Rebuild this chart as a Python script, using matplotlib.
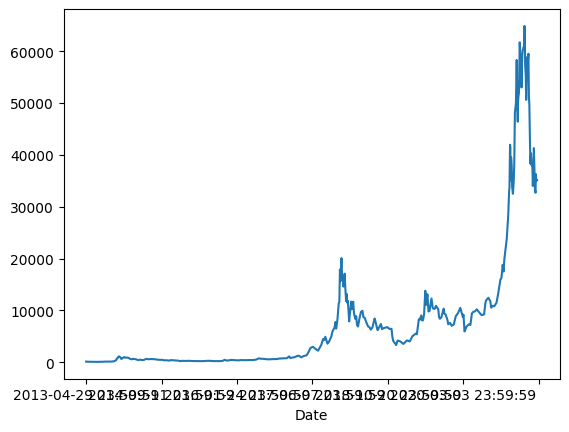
import matplotlib
matplotlib.use("Agg")
import matplotlib.pyplot as plt
import pandas as pd

start_date = "2013-04-29"

dates_2013 = ["2013-04-29", "2013-05-08", "2013-05-15", "2013-05-25", "2013-06-01", "2013-06-10", "2013-06-20",
              "2013-06-30", "2013-07-06", "2013-07-15", "2013-07-25", "2013-08-05", "2013-08-18", "2013-09-01",
              "2013-09-15", "2013-10-01", "2013-10-15", "2013-10-30", "2013-11-08", "2013-11-14", "2013-11-19",
              "2013-11-25", "2013-11-30", "2013-12-04", "2013-12-10", "2013-12-15", "2013-12-18", "2013-12-25"]
high_2013 = [147, 118, 118, 134, 130, 110, 112,
             98, 80, 98, 96, 107, 110, 138,
             134, 134, 145, 205, 340, 420, 755,
             830, 1130, 1156, 1010, 880, 650, 770]

dates_2014 = ["2014-01-06", "2014-01-15", "2014-01-25", "2014-02-05", "2014-02-12", "2014-02-25", "2014-03-05",
              "2014-03-15", "2014-03-25", "2014-04-05", "2014-04-11", "2014-04-20", "2014-05-01", "2014-05-15",
              "2014-06-01", "2014-06-15", "2014-07-01", "2014-07-15", "2014-08-01", "2014-08-18", "2014-09-01",
              "2014-09-15", "2014-10-01", "2014-10-15", "2014-11-01", "2014-11-12", "2014-12-01", "2014-12-15"]
high_2014 = [1017, 880, 930, 850, 700, 580, 680,
             640, 590, 470, 440, 510, 460, 450,
             660, 600, 640, 625, 590, 500, 485,
             480, 390, 400, 330, 430, 385, 355]

dates_2015 = ["2015-01-01", "2015-01-14", "2015-01-25", "2015-02-15", "2015-03-10", "2015-04-01", "2015-05-01",
              "2015-06-01", "2015-06-20", "2015-07-10", "2015-08-01", "2015-08-20", "2015-09-15", "2015-10-01",
              "2015-10-20", "2015-11-04", "2015-11-15", "2015-12-01", "2015-12-16"]
high_2015 = [320, 230, 290, 260, 295, 255, 240,
             232, 245, 295, 285, 240, 232, 240,
             270, 495, 340, 380, 465]

dates_2016 = ["2016-01-01", "2016-01-15", "2016-02-01", "2016-02-20", "2016-03-15", "2016-04-15", "2016-05-15",
              "2016-06-01", "2016-06-17", "2016-07-01", "2016-07-20", "2016-08-02", "2016-08-20", "2016-09-15",
              "2016-10-15", "2016-11-01", "2016-11-20", "2016-12-01", "2016-12-20"]
high_2016 = [435, 395, 378, 440, 418, 430, 455,
             540, 770, 690, 672, 612, 580, 612,
             642, 735, 752, 760, 800]

dates_2017 = ["2017-01-04", "2017-01-12", "2017-01-25", "2017-02-10", "2017-02-25", "2017-03-10", "2017-03-25",
              "2017-04-10", "2017-04-30", "2017-05-10", "2017-05-25", "2017-06-11", "2017-06-25", "2017-07-15",
              "2017-07-25", "2017-08-05", "2017-08-17", "2017-08-24", "2017-09-01", "2017-09-15", "2017-09-25",
              "2017-10-10", "2017-10-20", "2017-11-01", "2017-11-08", "2017-11-12", "2017-11-20", "2017-11-29",
              "2017-12-03", "2017-12-07", "2017-12-10", "2017-12-17", "2017-12-22", "2017-12-26", "2017-12-30"]
high_2017 = [1150, 820, 920, 1000, 1200, 1280, 960,
             1210, 1360, 1820, 2760, 3000, 2650, 2250,
             2780, 3350, 4480, 4300, 4930, 3600, 3950,
             4920, 6070, 6700, 7780, 6500, 8100, 11400,
             11600, 17900, 15600, 20090, 15900, 16300, 14600]

dates_2018 = ["2018-01-04", "2018-01-07", "2018-01-12", "2018-01-17", "2018-01-20", "2018-01-24", "2018-01-28",
              "2018-02-01", "2018-02-06", "2018-02-10", "2018-02-15", "2018-02-20", "2018-02-25", "2018-03-05",
              "2018-03-10", "2018-03-18", "2018-03-25", "2018-03-30", "2018-04-06", "2018-04-15", "2018-04-25",
              "2018-05-05", "2018-05-12", "2018-05-20", "2018-06-01", "2018-06-12", "2018-06-20", "2018-06-29",
              "2018-07-10", "2018-07-17", "2018-07-25", "2018-08-01", "2018-08-10", "2018-08-14", "2018-08-25",
              "2018-09-05", "2018-09-12", "2018-09-20", "2018-10-15", "2018-11-01", "2018-11-14", "2018-11-20",
              "2018-11-25", "2018-12-15", "2018-12-24"]
high_2018 = [15500, 17100, 14100, 11800, 13200, 11500, 11900,
             10300, 7900, 9100, 10300, 11700, 10300, 11700,
             9500, 8400, 8900, 7200, 6900, 8400, 9700,
             9950, 8700, 8600, 7650, 6900, 6800, 6300,
             6720, 7500, 8450, 7700, 6550, 6200, 6830,
             7400, 6400, 6550, 6800, 6450, 6450, 4850,
             4150, 3330, 4200]

dates_2019 = ["2019-01-10", "2019-02-01", "2019-02-24", "2019-03-15", "2019-04-02", "2019-04-25", "2019-05-01",
              "2019-05-14", "2019-05-20", "2019-05-30", "2019-06-04", "2019-06-10", "2019-06-18", "2019-06-26",
              "2019-07-02", "2019-07-10", "2019-07-17", "2019-07-24", "2019-08-06", "2019-08-15", "2019-08-28",
              "2019-09-05", "2019-09-20", "2019-09-25", "2019-10-01", "2019-10-10", "2019-10-26", "2019-10-30",
              "2019-11-08", "2019-11-20", "2019-11-25", "2019-12-07", "2019-12-18"]
high_2019 = [4050, 3550, 4230, 4040, 5050, 5550, 5400,
             8300, 8200, 9050, 8100, 8080, 9300, 13800,
             11100, 13130, 9800, 9900, 12300, 10400, 10320,
             10900, 10250, 8750, 8400, 8650, 10350, 9400,
             9200, 8150, 7350, 7600, 7050]

dates_2020 = ["2020-01-01", "2020-01-14", "2020-01-29", "2020-02-13", "2020-03-01", "2020-03-05", "2020-03-12",
              "2020-03-19", "2020-03-25", "2020-04-10", "2020-04-20", "2020-04-30", "2020-05-10", "2020-05-20",
              "2020-06-01", "2020-06-10", "2020-06-30", "2020-07-05", "2020-07-20", "2020-07-28", "2020-08-01",
              "2020-08-17", "2020-08-30", "2020-09-05", "2020-09-15", "2020-09-25", "2020-10-10", "2020-10-21",
              "2020-11-05", "2020-11-12", "2020-11-20", "2020-11-26", "2020-12-01", "2020-12-17", "2020-12-27"]
high_2020 = [7300, 8900, 9500, 10500, 8750, 9200, 5950,
             6400, 6900, 7320, 7200, 9450, 9750, 9800,
             10220, 9900, 9200, 9100, 9250, 11330, 11900,
             12450, 11800, 10550, 10900, 10800, 11500, 13200,
             15950, 16300, 18800, 17500, 19850, 23800, 28400]

dates_2021 = ["2021-01-02", "2021-01-04", "2021-01-08", "2021-01-10", "2021-01-12", "2021-01-15", "2021-01-19",
              "2021-01-22", "2021-01-27", "2021-02-01", "2021-02-05", "2021-02-09", "2021-02-11", "2021-02-14",
              "2021-02-16", "2021-02-21", "2021-02-23", "2021-02-28", "2021-03-01", "2021-03-05", "2021-03-08",
              "2021-03-13", "2021-03-18", "2021-03-21", "2021-03-25", "2021-03-30", "2021-04-02", "2021-04-10",
              "2021-04-14", "2021-04-16", "2021-04-18", "2021-04-22", "2021-04-25", "2021-05-01", "2021-05-03",
              "2021-05-07", "2021-05-10", "2021-05-13", "2021-05-16", "2021-05-19", "2021-05-20", "2021-05-23",
              "2021-05-27", "2021-06-01", "2021-06-05", "2021-06-08", "2021-06-12", "2021-06-15", "2021-06-22",
              "2021-06-26", "2021-06-28", "2021-07-01", "2021-07-06"]
high_2021 = [33200, 33600, 41950, 41300, 35100, 39500, 37800,
             33800, 32500, 34700, 38300, 48100, 48600, 49500,
             50000, 58300, 54200, 46400, 49800, 51400, 52000,
             61700, 58900, 58500, 53000, 59200, 60100, 61000,
             64863, 63500, 57500, 55400, 50600, 58000, 58900,
             58400, 59500, 51300, 49600, 43500, 42400, 38300,
             40300, 37900, 37800, 34000, 37400, 41300, 33300,
             32700, 36300, 35000, 35100]

tick_labels = ["2013-04-29 23:59:59", "2014-09-11 23:59:59", "2016-01-24 23:59:59",
               "2017-06-07 23:59:59", "2018-10-20 23:59:59", "2020-03-03 23:59:59", ""]

dates = (dates_2013 + dates_2014 + dates_2015 + dates_2016 + dates_2017
         + dates_2018 + dates_2019 + dates_2020 + dates_2021)
high = (high_2013 + high_2014 + high_2015 + high_2016 + high_2017
        + high_2018 + high_2019 + high_2020 + high_2021)

day_index = (pd.to_datetime(dates) - pd.Timestamp(start_date)).days.to_numpy()

fig, ax = plt.subplots(figsize=(6.4, 4.8), dpi=100)
ax.plot(day_index, high, color="C0")
ax.set_xticks(range(0, 500 * len(tick_labels), 500))
ax.set_xticklabels(tick_labels)
ax.set_xlabel("Date")
fig.savefig("out.png", dpi=100, bbox_inches="tight")
